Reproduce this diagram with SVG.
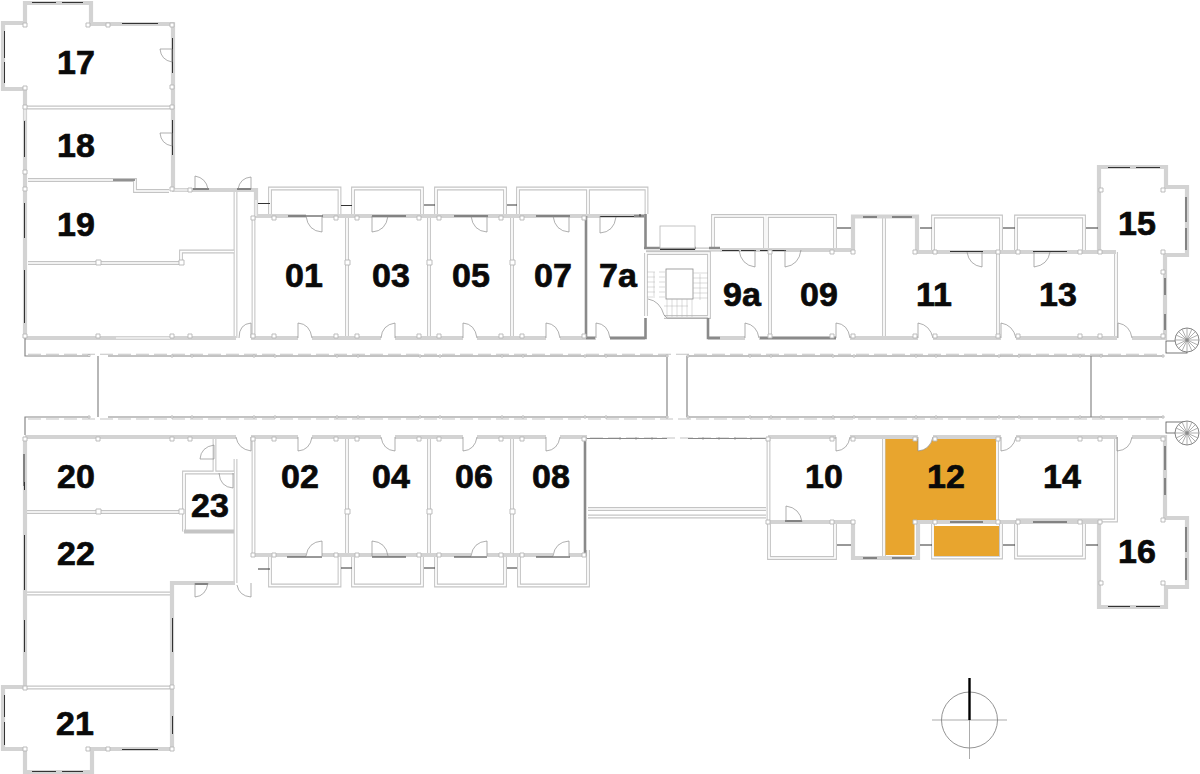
<svg xmlns="http://www.w3.org/2000/svg" xmlns:xlink="http://www.w3.org/1999/xlink" width="1200" height="774" viewBox="0 0 1200 774">
<style>
text{font-family:"Liberation Sans",Arial,sans-serif;font-weight:700;font-size:34px;fill:#0a0a0a;stroke:#0a0a0a;stroke-width:.7;text-anchor:middle}
path{fill:none}
.s{stroke:#d3d3d3;stroke-width:4.2}
.b{stroke:#c4c4c4;stroke-width:3.8}
.i{stroke:#fff;stroke-width:1.7}
.k{stroke:#333;stroke-width:1}
.g{stroke:#888;stroke-width:1.2}
.m{stroke:#8a8a8a;stroke-width:2.6}
.dash{stroke:#c4c4c4;stroke-width:1.1;stroke-dasharray:13 5}
.a{stroke:#8c8c8c;stroke-width:.7}
.t{stroke:#b4b4b4;stroke-width:.5}
.c{fill:#fff;stroke:#b5b5b5;stroke-width:.9}
</style>
<defs>
<path id="dbl" d="M270 216V188.500H339.500V216M353 216V188.500H422V216M436 216V188.500H505V216M518 216V188.500H588V216M588 188.500H646.500V214M713 250V216H765V250M767 250V216H835V250M933 250V216.500H1001V250M1016 250V216.500H1084V250
M270 557V585.500H339.500V557M353 557V585.500H422V557M436 557V585.500H505V557M519 557V585.500H588V550M769 522V558H835V523M933 523V557.500H1001V523M1016 523V557.500H1084V523
M25 107.500H172M28 180H135V191H169M28 263H181V251.500H234M235.500 190V338M253.500 218V338M347 218V338M429 218V338M512 218V338M770 252V338M884 218V338M998 252V338M1116 252V338M646 253V316M646 253H709V317H664M720 249.500H646
M27 512H182M27 593.500H170M25 687.500H172M253.500 437V556M347 437V556M429 437V556M512 437V556M235.500 459V583M214.500 438V472M184 531.500V472.500H234M768.500 437V522M884 439V556M997 439V522M1116 437V520.500H1016M588 509H766M588 516.500H766"/>
</defs>
<g id="walls">
<use href="#dbl" class="b"/>
<use href="#dbl" class="i"/>
<path class="b" style="stroke-width:3.8" d="M184 531.500H234"/>
<path class="s" d="M25 25V3H91V24H108M108 24H173V190M25 23H3V89H25V338M25 338H236M251 338H298M312 338H381M395 338H463M477 338H546M560 338H596M610 338H645M708 338H745M759 338H836M850 338H918M933 338H1001M1016 338H1117M1132 338H1165V255H1187V187H1166V167H1099V252"/>
<path class="s" d="M172 190H256V216H306M322 216H388M372 216H487M471 216H569M553 216H645M720 250H853V216.500H917V252H1116"/>
<path class="s" d="M25 437H236M251 437H298M312 437H381M395 437H463M477 437H546M560 437H587M768 437H836M850 437H918M933 437H1001M1016 437H1117M1132 437H1165V518H1187V587H1166V607H1099V523"/>
<path class="s" d="M25 437V687H3V749H25V772H92V749H172V583H235M253 555H306M322 555H388M372 555H471M487 555H553M569 555H586M768 522H853V558H918V522H1099"/>
<path class="s" style="stroke:#fff;stroke-width:1" d="M116 338H170M25 120V108M172 190H190M256 200V216"/>
<path class="m" d="M645.500 214V248M644 216H634M645.500 318V338H610M708 318V338H720M760 338H836M586 216V338M586 338H595M585 437V556M644 248H696M720 248H709"/>
</g>
<g id="unit-12-fill">
<path style="fill:#e8a52e" d="M885.500 439H918V451Q929 450 933 439H996V520H914.500V555H885.500Z"/>
<rect x="934" y="526" width="65" height="30" fill="#e8a52e"/>
</g>
<g id="windows">
<path class="k" d="M32 2.500H56M62 2.500H83M4.500 31V58M4.500 62V83M122 23.500H158M172.500 38V73M172.500 120V155M24.500 121V157M24.500 203V238M24.500 270V323M193 189H209M237 189H251M113 180H135M288 216H323M372 216H406M454 216H488M536 216H570M600 216.500H634M640 216.500V214M660 249.500H695M722 250.500H739M741 250.500H756M760 250.500H786M950 251.500H983M1033 251.500H1067M863 217H877M892 217H912M1108 167.500H1130M1136 167.500H1160M1186 197V222M1186 228V250M1165 278V295M1165 314V330
M24.500 482V490M24.500 535V590M24.500 620V652M172.500 618V652M172.500 716V734M4.500 695V717M4.500 722V745M122 749.500H158M32 771.500H56M62 771.500H83M195 584H208M287 557H322M372 557H406M454 557H487M536 557H570M863 558H877M892 558H912M950 522H983M1033 522H1067M1108 606.500H1130M1136 606.500H1160M1186 527V552M1186 558V580M1165 446V470M1165 478V495M24 454V486M785 521H802"/>
<path class="k" d="M341 205.500H352M258 203.500H270M424 205H435M507 205H517M258 569H270M341 568H352M424 568H435M507 568H517M837 228H851M920 228H932M1003 228H1015M1086 228H1098M837 545H851M920 545H932M1003 545H1015M1086 545H1098"/>
</g>
<g id="corridor">
<path class="dash" d="M28 354.300H1162M28 419H586M588 419H1162M590 438H768"/>
<path class="g" d="M25 338V356H88M108 356H667M687 356H1163M98 356V417M667 356V417M687 356V417M1091 356V417M25 435V417H88M108 417H667M687 417H1163M587 438.500H667M688 438.500H768"/>
<path class="g" d="M620 437.500v2M636 437.500v2M652 437.500v2M703 437.500v2M719 437.500v2M735 437.500v2M751 437.500v2"/>
</g>
<g id="doors">
<path class="a" d="M172 62V49H160Q161 60 172 62M172 146V133H160Q161 144 172 146M195 189V176Q206 178 208 189M251 189V177Q240 178 238 189M239 338Q239 324 251 323V338M298 338V323Q310 324 312 338M395 338V323Q382 325 381 338M463 338V323Q475 324 477 338M546 338V323Q558 324 560 338M596 338V323Q608 324 610 338M745 338V323Q757 325 759 338M836 338V323Q848 324 850 338M918 338V323Q930 325 933 338M1001 338V323Q1013 325 1016 338M1118 338V323Q1130 325 1132 338"/>
<path class="a" d="M322 216V232Q308 231 306 216M372 216V232Q386 231 388 216M487 216V232Q473 231 471 216M569 216V232Q555 231 553 216M600 216V233Q614 232 616 217M755 250V267Q741 265 739 250M785 250V267Q799 265 801 250M982 252V267Q969 265 967 252M1034 252V267Q1048 265 1050 252"/>
<path class="a" d="M298 437V451Q310 450 312 437M395 437V451Q383 450 381 437M463 437V451Q475 450 477 437M546 437V451Q558 450 560 437M836 437V451Q848 450 850 437M918 437V451Q930 450 933 437M1001 437V451Q1013 450 1016 437M1117 437V451Q1130 450 1132 437M236 437Q238 449 251 451V437M214 445V459H200Q201 447 214 445M219 473Q220 487 233 488V473M195 583V597Q206 596 208 583M237 585Q239 596 251 597V583"/>
<path class="a" d="M322 556V541Q308 542 306 556M372 556V541Q386 542 388 556M487 556V541Q473 542 471 556M569 556V541Q555 542 553 556M786 522V506Q800 508 802 522"/>
</g>
<g id="stairs">
<rect x="660" y="226" width="35" height="22" fill="#fff" stroke="#b5b5b5" stroke-width=".8"/>
<rect x="666" y="269" width="27" height="30" fill="#fff" stroke="#8c8c8c" stroke-width=".8"/>
<path class="a" d="M648 299Q660 301 664 315M664 315L667 318H708"/>
<path class="t" d="M647 272H655M659 272H665M647 277H655M659 277H665M647 282H655M659 282H665M647 287H655M659 287H665M647 292H655M659 292H665M647 297H655M659 297H665M693 273H708M693 278H708M693 283H708M693 288H708M693 293H708M693 298H708M667 299V317M672 299V317M677 299V317M682 299V317M687 299V317M692 299V317M654 272V296M700 274V300M664 306H688"/>
</g>
<g id="spiral-stairs">
<rect x="1166" y="341" width="21" height="12" fill="#fff" stroke="#555" stroke-width=".8"/>
<circle cx="1187" cy="340" r="12" fill="#fff" stroke="#666" stroke-width=".8"/>
<circle cx="1187" cy="340" r="1.500" fill="#444"/>
<path class="a" d="M1175 340H1199M1187 328V352M1178.500 331.500L1195.500 348.500M1178.500 348.500L1195.500 331.500M1182 329L1192 351M1176 345L1198 335M1182 351L1192 329M1176 335L1198 345"/>
<rect x="1166" y="422" width="21" height="11" fill="#fff" stroke="#555" stroke-width=".8"/>
<circle cx="1187" cy="433" r="12" fill="#fff" stroke="#666" stroke-width=".8"/>
<circle cx="1187" cy="433" r="1.500" fill="#444"/>
<path class="a" d="M1175 433H1199M1187 421V445M1178.500 424.500L1195.500 441.500M1178.500 441.500L1195.500 424.500M1182 422L1192 444M1176 438L1198 428M1182 444L1192 422M1176 428L1198 438"/>
</g>
<g id="columns">
<path class="c" d="M23 23h4v4h-4zM86 23h4v4h-4zM106 23h4v4h-4zM170 23h4v4h-4zM23 86h4v4h-4zM170 85h4v4h-4zM23 105h4v4h-4zM170 105h4v4h-4zM23 170h4v4h-4zM23 187h4v4h-4zM170 187h4v4h-4zM188 188h4v4h-4zM251 216h4v4h-4zM272 216h4v4h-4zM334 216h4v4h-4zM355 216h4v4h-4zM417 216h4v4h-4zM437 216h4v4h-4zM499 216h4v4h-4zM520 216h4v4h-4zM582 216h4v4h-4zM768 250h4v4h-4zM830 250h4v4h-4zM851 250h4v4h-4zM913 250h4v4h-4zM933 250h4v4h-4zM996 250h4v4h-4zM1016 250h4v4h-4zM1078 250h4v4h-4zM1098 250h4v4h-4zM1099 188h4v4h-4zM1161 188h4v4h-4zM1161 250h4v4h-4zM1161 270h4v4h-4z"/>
<path class="c" d="M23 334h4v4h-4zM96 334h4v4h-4zM170 334h4v4h-4zM188 334h4v4h-4zM251 334h4v4h-4zM272 334h4v4h-4zM334 334h4v4h-4zM355 334h4v4h-4zM417 334h4v4h-4zM437 334h4v4h-4zM499 334h4v4h-4zM520 334h4v4h-4zM582 334h4v4h-4zM768 334h4v4h-4zM830 334h4v4h-4zM851 334h4v4h-4zM913 334h4v4h-4zM933 334h4v4h-4zM996 334h4v4h-4zM1016 334h4v4h-4zM1078 334h4v4h-4zM1098 334h4v4h-4zM1161 334h4v4h-4z"/>
<path class="c" d="M96 260h5v5h-5zM179 260h5v5h-5zM345 260h5v5h-5zM427 260h5v5h-5zM510 260h5v5h-5zM96 509h5v5h-5zM179 509h5v5h-5zM345 509h5v5h-5zM427 509h5v5h-5zM510 509h5v5h-5z"/>
<path class="c" d="M23 437h4v4h-4zM96 437h4v4h-4zM170 437h4v4h-4zM188 437h4v4h-4zM251 437h4v4h-4zM272 437h4v4h-4zM334 437h4v4h-4zM355 437h4v4h-4zM417 437h4v4h-4zM437 437h4v4h-4zM499 437h4v4h-4zM520 437h4v4h-4zM582 437h4v4h-4zM766 437h4v4h-4zM830 437h4v4h-4zM851 437h4v4h-4zM913 437h4v4h-4zM933 437h4v4h-4zM996 437h4v4h-4zM1016 437h4v4h-4zM1078 437h4v4h-4zM1098 437h4v4h-4zM1161 437h4v4h-4z"/>
<path class="c" d="M251 553h4v4h-4zM272 553h4v4h-4zM334 553h4v4h-4zM355 553h4v4h-4zM417 553h4v4h-4zM437 553h4v4h-4zM499 553h4v4h-4zM520 553h4v4h-4zM582 553h4v4h-4zM766 520h4v4h-4zM830 520h4v4h-4zM851 520h4v4h-4zM913 520h4v4h-4zM933 520h4v4h-4zM996 520h4v4h-4zM1016 520h4v4h-4zM1078 520h4v4h-4zM1098 520h4v4h-4zM1161 518h4v4h-4zM1099 581h4v4h-4zM1161 581h4v4h-4zM23 686h4v4h-4zM170 685h4v4h-4zM23 747h4v4h-4zM86 747h4v4h-4zM106 747h4v4h-4zM170 747h4v4h-4z"/>
<path class="c" d="M88 354.500h2v2h-2zM171 355h2v2h-2zM191 355h2v2h-2zM253 355h2v2h-2zM274 355h2v2h-2zM336 355h2v2h-2zM357 355h2v2h-2zM419 355h2v2h-2zM439 355h2v2h-2zM501 355h2v2h-2zM522 355h2v2h-2zM584 355h2v2h-2zM605 355h2v2h-2zM666 355h2v2h-2zM687 355h2v2h-2zM749 355h2v2h-2zM770 355h2v2h-2zM832 355h2v2h-2zM853 355h2v2h-2zM915 355h2v2h-2zM935 355h2v2h-2zM998 355h2v2h-2zM1018 355h2v2h-2zM1079 355h2v2h-2zM1100 355h2v2h-2zM1162 355h2v2h-2z"/>
<path class="c" d="M88 416h2v2h-2zM171 416h2v2h-2zM191 416h2v2h-2zM253 416h2v2h-2zM274 416h2v2h-2zM336 416h2v2h-2zM357 416h2v2h-2zM419 416h2v2h-2zM439 416h2v2h-2zM501 416h2v2h-2zM522 416h2v2h-2zM584 416h2v2h-2zM605 416h2v2h-2zM666 416h2v2h-2zM687 416h2v2h-2zM749 416h2v2h-2zM770 416h2v2h-2zM832 416h2v2h-2zM853 416h2v2h-2zM915 416h2v2h-2zM935 416h2v2h-2zM998 416h2v2h-2zM1018 416h2v2h-2zM1079 416h2v2h-2zM1100 416h2v2h-2zM1162 416h2v2h-2z"/>
</g>
<g id="north-arrow">
<circle cx="969.500" cy="720" r="28" fill="none" stroke="#777" stroke-width=".8"/>
<path class="t" style="stroke:#888;stroke-width:.7" d="M932 720H1007M969.500 720V759"/>
<path d="M969.500 678V720" stroke="#000" stroke-width="2.400"/>
</g>
<g id="labels">
<text x="76" y="74">17</text><text x="76" y="157">18</text><text x="76" y="236">19</text>
<text x="304" y="287">01</text><text x="391" y="287">03</text><text x="471" y="287">05</text><text x="553" y="287">07</text><text x="618" y="287">7a</text>
<text x="742" y="306">9a</text><text x="819" y="306">09</text><text x="934" y="306">11</text><text x="1058" y="306">13</text><text x="1137" y="235">15</text>
<text x="76" y="488">20</text><text x="76" y="565">22</text><text x="210" y="517">23</text><text x="75" y="735">21</text>
<text x="300" y="488">02</text><text x="391" y="488">04</text><text x="474" y="488">06</text><text x="551" y="488">08</text>
<text x="824" y="488">10</text><text x="946" y="488">12</text><text x="1062" y="488">14</text><text x="1137" y="563">16</text>
</g>
</svg>
